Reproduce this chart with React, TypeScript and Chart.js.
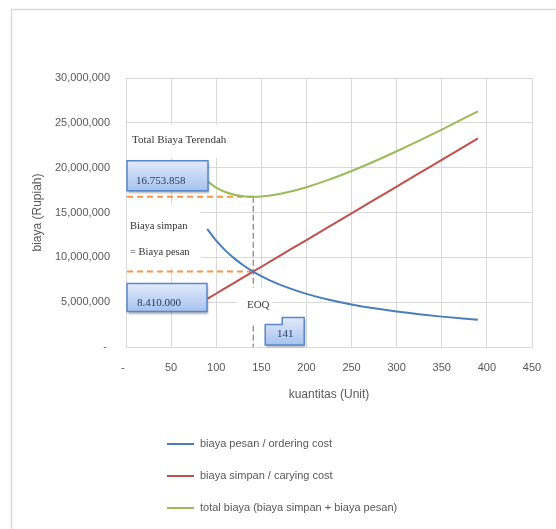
import { useEffect, useRef } from "react";
import { Chart, registerables } from "chart.js";

Chart.register(...registerables);

// Order quantity (units) and the cost curves in Rupiah
const quantities = [90, 100, 110, 120, 130, 141, 150, 160, 180, 200, 225, 250, 275, 300, 325, 350, 390];
const orderingCost = [
  13176000, 11858000, 10780000, 9882000, 9122000, 8410000, 7905000, 7411000, 6588000,
  5929000, 5270000, 4743000, 4312000, 3953000, 3649000, 3388000, 3041000,
];
const carryingCost = [
  5368000, 5965000, 6561000, 7157000, 7754000, 8410000, 8947000, 9543000, 10736000,
  11929000, 13420000, 14911000, 16402000, 17894000, 19385000, 20876000, 23262000,
];
const totalCost = [
  18500000, 17780000, 17290000, 16990000, 16820000, 16753858, 16790000, 16900000, 17280000,
  17820000, 18660000, 19630000, 20690000, 21830000, 23020000, 24250000, 26290000,
];

const seriesLabels = [
  "biaya pesan / ordering cost",
  "biaya simpan / carying cost",
  "total biaya (biaya simpan + biaya pesan)",
];
const seriesColors = ["#4a7ebb", "#c0504d", "#9bbb59"];

const EOQ = 141;
const EOQ_COST = 8410000;
const MIN_TOTAL = 16753858;

const noteTitle = "Total Biaya Terendah";
const noteEqual = ["Biaya simpan", "= Biaya pesan"];
const noteEoq = "EOQ";

const SANS = "'Liberation Sans', Arial, sans-serif";
const SERIF = "'Liberation Serif', 'Times New Roman', serif";

const withDots = (v: number) => Math.round(v).toString().replace(/\B(?=(\d{3})+(?!\d))/g, ".");
const withCommas = (v: number) => Math.round(v).toString().replace(/\B(?=(\d{3})+(?!\d))/g, ",");

function calloutBox(ctx: CanvasRenderingContext2D, x0: number, y0: number, x1: number, y1: number, notch?: { w: number; h: number }) {
  ctx.save();
  ctx.beginPath();
  if (notch) {
    ctx.moveTo(x0, y0 + notch.h);
    ctx.lineTo(x0 + notch.w, y0 + notch.h);
    ctx.lineTo(x0 + notch.w, y0);
  } else {
    ctx.moveTo(x0, y0);
  }
  ctx.lineTo(x1, y0);
  ctx.lineTo(x1, y1);
  ctx.lineTo(x0, y1);
  ctx.closePath();
  const g = ctx.createLinearGradient(0, y0, 0, y1);
  g.addColorStop(0, "#e2eafb");
  g.addColorStop(1, "#a6c3ee");
  ctx.shadowColor = "rgba(0,0,0,0.3)";
  ctx.shadowOffsetX = 1;
  ctx.shadowOffsetY = 2;
  ctx.shadowBlur = 2;
  ctx.fillStyle = g;
  ctx.fill();
  ctx.shadowColor = "transparent";
  ctx.strokeStyle = "#5a86cc";
  ctx.lineWidth = 1.5;
  ctx.stroke();
  ctx.restore();
}

const eoqNotes = {
  id: "eoqNotes",
  beforeDraw(chart: any) {
    const { ctx } = chart;
    ctx.save();
    ctx.fillStyle = "#ffffff";
    ctx.fillRect(0, 0, chart.width, chart.height);
    ctx.strokeStyle = "#d9d9d9";
    ctx.lineWidth = 1.5;
    ctx.strokeRect(11.5, 9.5, chart.width + 20, chart.height + 20);
    ctx.restore();
  },
  beforeDatasetsDraw(chart: any) {
    const { ctx, chartArea: a, scales } = chart;
    const px = scales.x.getPixelForValue(EOQ);
    const pyMin = scales.y.getPixelForValue(MIN_TOTAL);
    const pyEq = scales.y.getPixelForValue(EOQ_COST);
    ctx.save();
    // white backing of the text notes
    ctx.fillStyle = "#ffffff";
    ctx.fillRect(a.left + 1, pyMin - 72, 118, 33);
    ctx.fillRect(a.left + 1, pyEq - 67, 74, 63);
    ctx.fillRect(px - 16, pyEq + 16, 35, a.bottom - 1 - (pyEq + 16));

    // orange guide lines at the minimum total and at the crossing
    ctx.strokeStyle = "#f79646";
    ctx.lineWidth = 2;
    ctx.setLineDash([6, 4]);
    ctx.beginPath();
    ctx.moveTo(a.left + 1, pyMin);
    ctx.lineTo(px, pyMin);
    ctx.moveTo(a.left + 1, pyEq);
    ctx.lineTo(px, pyEq);
    ctx.stroke();

    // vertical guide at the EOQ
    ctx.strokeStyle = "#666666";
    ctx.lineWidth = 1;
    ctx.setLineDash([6, 3]);
    ctx.beginPath();
    ctx.moveTo(px, pyMin);
    ctx.lineTo(px, pyEq + 16);
    ctx.moveTo(px, pyEq + 54);
    ctx.lineTo(px, a.bottom);
    ctx.stroke();
    ctx.restore();
  },
  afterDatasetsDraw(chart: any) {
    const { ctx, chartArea: a, scales } = chart;
    const px = scales.x.getPixelForValue(EOQ);
    const pyMin = scales.y.getPixelForValue(MIN_TOTAL);
    const pyEq = scales.y.getPixelForValue(EOQ_COST);
    ctx.save();
    ctx.textBaseline = "middle";
    ctx.textAlign = "left";
    ctx.fillStyle = "#333333";
    ctx.font = `11px ${SERIF}`;
    ctx.fillText(noteTitle, a.left + 6, pyMin - 57);
    ctx.font = `10.5px ${SERIF}`;
    ctx.fillText(noteEqual[0], a.left + 4, pyEq - 45);
    ctx.fillText(noteEqual[1], a.left + 4, pyEq - 19);
    ctx.font = `11px ${SERIF}`;
    ctx.fillStyle = "#404040";
    ctx.textAlign = "center";
    ctx.fillText(noteEoq, px + 5, pyEq + 34);

    calloutBox(ctx, a.left + 1, pyMin - 36, a.left + 82, pyMin - 6);
    calloutBox(ctx, a.left + 1, pyEq + 12, a.left + 81, pyEq + 40);
    calloutBox(ctx, px + 12, pyEq + 46, px + 51, a.bottom - 2, { w: 17, h: 7 });

    ctx.fillStyle = "#233a66";
    ctx.font = `11px ${SERIF}`;
    ctx.textAlign = "left";
    ctx.fillText(withDots(MIN_TOTAL), a.left + 10, pyMin - 16);
    ctx.fillText(withDots(EOQ_COST), a.left + 11, pyEq + 32);
    ctx.textAlign = "center";
    ctx.fillText(String(EOQ), px + 32, pyEq + 63);
    ctx.restore();
  },
  afterDraw(chart: any) {
    const { ctx, chartArea: a } = chart;
    ctx.save();
    ctx.font = `11px ${SANS}`;
    ctx.textBaseline = "middle";
    ctx.textAlign = "left";
    chart.data.datasets.forEach((ds: any, i: number) => {
      const yy = a.bottom + 97 + i * 32;
      ctx.strokeStyle = ds.borderColor;
      ctx.lineWidth = 2;
      ctx.beginPath();
      ctx.moveTo(167, yy);
      ctx.lineTo(194, yy);
      ctx.stroke();
      ctx.fillStyle = "#595959";
      ctx.fillText(ds.label, 200, yy);
    });
    ctx.restore();
  },
};

export default function App() {
  const ref = useRef<HTMLCanvasElement>(null);

  useEffect(() => {
    if (!ref.current) return;
    const series = [orderingCost, carryingCost, totalCost];
    const chart = new Chart(ref.current, {
      type: "line",
      data: {
        datasets: series.map((vals, i) => ({
          label: seriesLabels[i],
          data: quantities.map((q, j) => ({ x: q, y: vals[j] })),
          borderColor: seriesColors[i],
          backgroundColor: seriesColors[i],
          borderWidth: 2,
          pointRadius: 0,
          cubicInterpolationMode: "monotone" as const,
          fill: false,
        })),
      },
      options: {
        responsive: false,
        animation: false,
        layout: { padding: { left: 0, top: 78, right: 24, bottom: 122 } },
        plugins: { legend: { display: false }, tooltip: { enabled: false } },
        scales: {
          x: {
            type: "linear",
            min: 0,
            max: 450,
            ticks: {
              stepSize: 50,
              padding: 14,
              color: "#595959",
              font: { family: SANS, size: 11 },
              callback: (v: any) => (Number(v) === 0 ? "-  " : String(v)),
            },
            grid: { color: "#d9d9d9", lineWidth: 1, drawTicks: false },
            border: { color: "#d9d9d9" },
            title: {
              display: true,
              text: "kuantitas (Unit)",
              color: "#595959",
              font: { family: SANS, size: 12 },
              padding: { top: 4, bottom: 5 },
            },
            afterFit: (s: any) => {
              s.height = 60;
            },
          },
          y: {
            min: 0,
            max: 30000000,
            ticks: {
              stepSize: 5000000,
              padding: 16,
              color: "#595959",
              font: { family: SANS, size: 11 },
              callback: (v: any) => (Number(v) === 0 ? "- " : withCommas(Number(v))),
            },
            grid: { color: "#d9d9d9", lineWidth: 1, drawTicks: false },
            border: { color: "#d9d9d9" },
            title: {
              display: true,
              text: "biaya (Rupiah)",
              color: "#595959",
              font: { family: SANS, size: 12 },
              padding: { top: 30, bottom: 0 },
            },
            afterFit: (s: any) => {
              s.width = 126;
            },
          },
        },
      },
      plugins: [eoqNotes],
    });
    return () => chart.destroy();
  }, []);

  return (
    <div style={{ position: "fixed", left: 0, top: 0, width: 556, height: 529, background: "#fff" }}>
      <canvas ref={ref} width={556} height={529} style={{ display: "block" }} />
    </div>
  );
}
